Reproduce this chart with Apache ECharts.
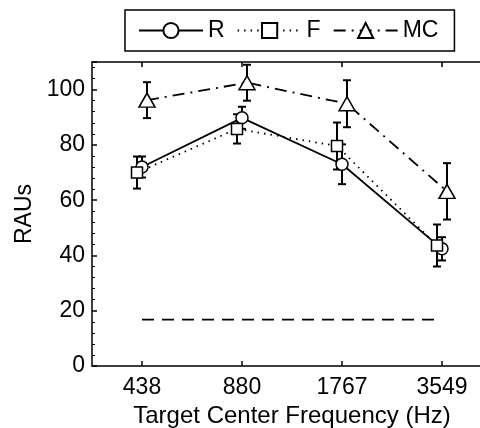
<!DOCTYPE html>
<html>
<head>
<meta charset="utf-8">
<script src="https://cdn.jsdelivr.net/npm/echarts@6/dist/echarts.min.js"></script>
<style>
  html, body { margin: 0; padding: 0; background: #fff; }
  #chart { width: 480px; height: 428px; }
</style>
</head>
<body>
<div id="chart"></div>
<script>
// 数据
const categories = ["438", "880", "1767", "3549"];
const rValues = [72, 89.8, 73, 42.4];
const rErrors = [3.8, 4, 7.2, 4.2];
const fValues = [70, 85.8, 79.6, 43.6];
const fErrors = [5.8, 5.3, 8.5, 7.6];
const mcValues = [96.2, 102.5, 94.9, 63.2];
const mcErrors = [6.5, 6.5, 8.5, 10.2];
const chanceLevel = 16.8;
const yTicks = [0, 20, 40, 60, 80, 100];

const font = "Liberation Sans";
const fontSize = 23;
const tickIdx = categories.map((c, i) => i);

// 把数组转成 [x, y] 点，带一点水平偏移
const toPoints = (vals, off) => vals.map((v, i) => [i + off, v]);
const toErr = (vals, errs, off) => vals.map((v, i) => [i + off, v, errs[i]]);

const errRender = (params, api) => {
  const x = api.value(0), y = api.value(1), e = api.value(2);
  const top = api.coord([x, y + e]);
  const bot = api.coord([x, y - e]);
  const w = 4;
  const st = { stroke: "#000", lineWidth: 2 };
  return {
    type: "group",
    children: [
      { type: "line", shape: { x1: top[0], y1: top[1], x2: bot[0], y2: bot[1] }, style: st },
      { type: "line", shape: { x1: top[0] - w, y1: top[1], x2: top[0] + w, y2: top[1] }, style: st },
      { type: "line", shape: { x1: bot[0] - w, y1: bot[1], x2: bot[0] + w, y2: bot[1] }, style: st },
    ],
  };
};

const errSeries = (vals, errs, off) => ({
  type: "custom",
  renderItem: errRender,
  encode: { x: 0, y: [1, 2] },
  data: toErr(vals, errs, off),
  z: 2,
  silent: true,
});

const xAxisBase = {
  type: "value",
  min: -0.5,
  max: 3.5,
  axisLine: { onZero: false, lineStyle: { color: "#000", width: 1.5 } },
  splitLine: { show: false },
};

let chart = echarts.init(document.getElementById("chart"));
let option = {
  animation: false,
  backgroundColor: "#fff",
  legend: {
    left: 125,
    top: 10,
    padding: [9, 16, 9, 13],
    borderColor: "#000",
    borderWidth: 1.5,
    itemWidth: 64,
    itemHeight: 19,
    itemGap: 12,
    textStyle: { fontFamily: font, fontSize: fontSize, color: "#000" },
    data: ["R", "F", "MC"],
  },
  grid: { left: 92, right: -12, top: 62, bottom: 62, containLabel: false, outerBoundsMode: "none" },
  xAxis: [
    Object.assign({}, xAxisBase, {
      position: "bottom",
      name: "Target Center Frequency (Hz)",
      nameLocation: "middle",
      nameGap: 32,
      nameTextStyle: { fontFamily: font, fontSize: 24, color: "#000" },
      axisTick: { inside: true, length: 5, lineStyle: { color: "#000", width: 1.5 }, customValues: tickIdx },
      axisLabel: {
        customValues: tickIdx,
        margin: 10,
        fontFamily: font,
        fontSize: fontSize,
        color: "#000",
        formatter: (v) => categories[Math.round(v)],
      },
    }),
    Object.assign({}, xAxisBase, {
      position: "top",
      axisTick: { inside: true, length: 5, lineStyle: { color: "#000", width: 1.5 }, customValues: tickIdx },
      axisLabel: { show: false },
    }),
  ],
  yAxis: {
    type: "value",
    min: 0,
    max: 110,
    interval: 20,
    name: "RAUs",
    nameLocation: "middle",
    nameGap: 56,
    nameTextStyle: { fontFamily: font, fontSize: fontSize, color: "#000" },
    axisLine: { show: true, onZero: false, lineStyle: { color: "#000", width: 1.5 } },
    axisTick: { show: true, inside: true, length: 5, lineStyle: { color: "#000", width: 1.5 } },
    minorTick: { show: true, splitNumber: 5, length: 3, lineStyle: { color: "#000", width: 1 } },
    splitLine: { show: false },
    axisLabel: {
      customValues: yTicks,
      margin: 7,
      fontFamily: font,
      fontSize: fontSize,
      color: "#000",
    },
  },
  series: [
    errSeries(rValues, rErrors, 0),
    errSeries(fValues, fErrors, -0.05),
    errSeries(mcValues, mcErrors, 0.05),
    {
      name: "R",
      type: "line",
      data: toPoints(rValues, 0),
      symbol: "circle",
      symbolSize: 12,
      color: "#000",
      lineStyle: { color: "#000", width: 1.8, type: "solid" },
      itemStyle: { color: "#fff", borderColor: "#000", borderWidth: 1.5 },
      z: 3,
    },
    {
      name: "F",
      type: "line",
      data: toPoints(fValues, -0.05),
      symbol: "rect",
      symbolSize: 11,
      color: "#000",
      lineStyle: { color: "#000", width: 1.8, type: [1.5, 5] },
      itemStyle: { color: "#fff", borderColor: "#000", borderWidth: 1.5 },
      z: 3,
    },
    {
      name: "MC",
      type: "line",
      data: toPoints(mcValues, 0.05),
      symbol: "triangle",
      symbolSize: [16, 14],
      color: "#000",
      lineStyle: { color: "#000", width: 1.8, type: [12, 6, 2, 6] },
      itemStyle: { color: "#fff", borderColor: "#000", borderWidth: 1.5 },
      z: 3,
    },
    {
      type: "line",
      data: [[0, chanceLevel], [3, chanceLevel]],
      symbol: "none",
      lineStyle: { color: "#000", width: 1.8, type: [12, 8] },
      silent: true,
      z: 1,
    },
  ],
};
chart.setOption(option);
</script>
</body>
</html>
